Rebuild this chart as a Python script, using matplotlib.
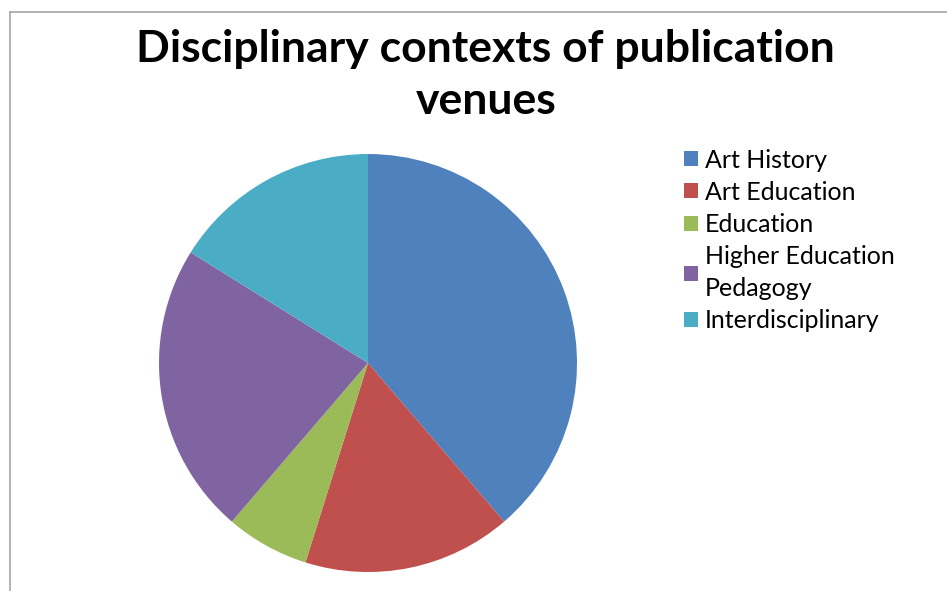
import matplotlib.pyplot as plt
from matplotlib.lines import Line2D

# datos del grafico
categorias = ['Art History', 'Art Education', 'Education', 'Higher Education\nPedagogy', 'Interdisciplinary']
valores = [12, 5, 2, 7, 5]
colores = ['#4F81BD', '#C0504D', '#9BBB59', '#8064A2', '#4BACC6']

plt.rcParams['font.family'] = ['Lato', 'DejaVu Sans']

fig = plt.figure(figsize=(9.47, 5.91), dpi=100)

# borde gris (solo arriba e izquierda se ven en la captura)
fig.add_artist(Line2D([10/947, 10/947], [0, 1 - 12/591], color='#a6a6a6', lw=1.2))
fig.add_artist(Line2D([10/947, 1], [1 - 12/591, 1 - 12/591], color='#a6a6a6', lw=1.2))

ax = fig.add_axes([0.1679, 0.0321, 0.4414, 0.7073])
wedges, _ = ax.pie(valores, colors=colores, startangle=90, counterclock=False,
                   wedgeprops=dict(linewidth=0))
ax.set_xlim(-1, 1)
ax.set_ylim(-1, 1)
ax.set_aspect('equal')

fig.text(0.513, 1 - 75/591, 'Disciplinary contexts of publication\nvenues',
         ha='center', va='center', fontsize=32, fontweight='bold', linespacing=1.37)

leg = fig.legend(wedges, categorias, loc='upper left', bbox_to_anchor=(0.709, 1 - 136/591),
                 frameon=False, fontsize=18, handlelength=0.55, handleheight=0.55,
                 handletextpad=0.3, labelspacing=0.37, borderpad=0)
for t in leg.get_texts():
    t.set_linespacing(1.45)

plt.savefig('out.png', dpi=100)
